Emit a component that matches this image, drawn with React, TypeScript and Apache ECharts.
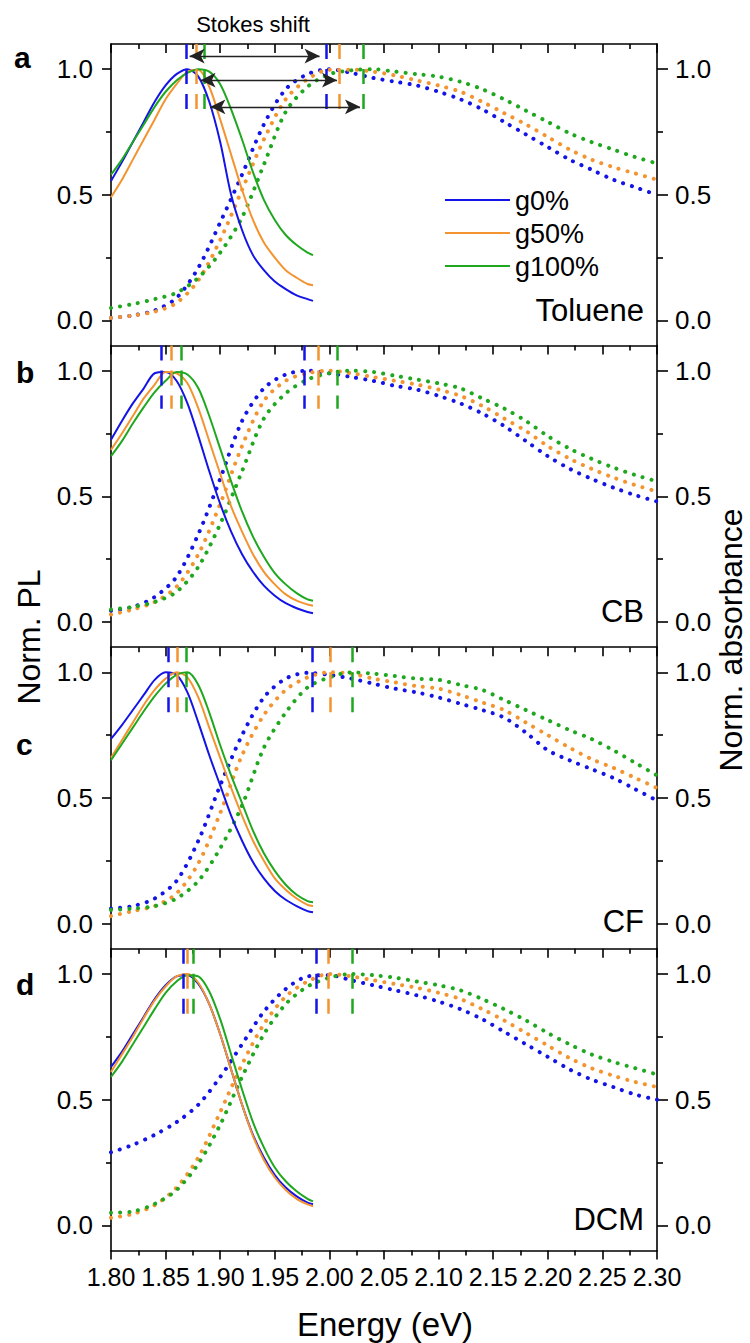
import React, { useEffect, useRef } from "react";
import * as echarts from "echarts";

// ---------- data ----------
const X_MIN = 1.8;
const X_MAX = 2.3;
const X_STEP = 0.05;
const Y_MIN = -0.1;
const Y_MAX = 1.1;
const Y_TICKS = [0, 0.5, 1.0];
const Y_MINOR_TICKS = [0.25, 0.75];

const SAMPLES = ["g0%", "g50%", "g100%"];
const SOLVENTS = ["Toluene", "CB", "CF", "DCM"];
const PANEL_LETTERS = ["a", "b", "c", "d"];

const PL_E = [1.80, 1.81, 1.82, 1.83, 1.84, 1.85, 1.86, 1.87, 1.88, 1.89, 1.90, 1.91, 1.92, 1.93, 1.94, 1.95, 1.96, 1.97, 1.98, 1.985];
const ABS_E = [1.80, 1.82, 1.84, 1.86, 1.88, 1.90, 1.92, 1.94, 1.96, 1.98, 2.00, 2.02, 2.04, 2.06, 2.08, 2.10, 2.12, 2.14, 2.16, 2.18, 2.20, 2.22, 2.24, 2.26, 2.28, 2.30];

// Toluene
const plTol_g0 = [0.555, 0.63, 0.71, 0.79, 0.87, 0.935, 0.98, 1.0, 0.97, 0.87, 0.71, 0.50, 0.36, 0.26, 0.20, 0.155, 0.125, 0.10, 0.085, 0.078];
const plTol_g50 = [0.49, 0.56, 0.64, 0.72, 0.80, 0.88, 0.94, 0.99, 0.998, 0.93, 0.80, 0.66, 0.52, 0.40, 0.31, 0.25, 0.20, 0.17, 0.145, 0.14];
const plTol_g100 = [0.58, 0.64, 0.71, 0.78, 0.85, 0.91, 0.955, 0.985, 1.0, 0.99, 0.94, 0.84, 0.72, 0.59, 0.48, 0.40, 0.34, 0.30, 0.27, 0.26];
const absTol_g0 = [0.01, 0.02, 0.04, 0.09, 0.21, 0.39, 0.58, 0.78, 0.92, 0.98, 1.0, 0.985, 0.965, 0.95, 0.935, 0.91, 0.88, 0.84, 0.79, 0.74, 0.69, 0.64, 0.60, 0.56, 0.53, 0.50];
const absTol_g50 = [0.01, 0.02, 0.035, 0.07, 0.16, 0.32, 0.52, 0.72, 0.88, 0.96, 0.998, 0.998, 0.99, 0.975, 0.955, 0.935, 0.91, 0.87, 0.825, 0.78, 0.73, 0.68, 0.64, 0.61, 0.585, 0.56];
const absTol_g100 = [0.05, 0.065, 0.085, 0.11, 0.17, 0.27, 0.41, 0.62, 0.83, 0.93, 0.98, 0.995, 1.0, 0.99, 0.98, 0.97, 0.95, 0.92, 0.88, 0.835, 0.79, 0.745, 0.71, 0.68, 0.65, 0.625];

// CB
const plCB_g0 = [0.725, 0.80, 0.87, 0.93, 0.99, 0.995, 0.96, 0.87, 0.74, 0.60, 0.47, 0.36, 0.27, 0.20, 0.145, 0.105, 0.075, 0.055, 0.04, 0.035];
const plCB_g50 = [0.685, 0.75, 0.82, 0.89, 0.945, 0.995, 0.99, 0.95, 0.85, 0.72, 0.59, 0.46, 0.36, 0.27, 0.20, 0.15, 0.11, 0.085, 0.07, 0.065];
const plCB_g100 = [0.66, 0.72, 0.79, 0.855, 0.915, 0.96, 0.995, 0.985, 0.93, 0.82, 0.69, 0.56, 0.44, 0.34, 0.26, 0.195, 0.15, 0.115, 0.09, 0.085];
const absCB_g0 = [0.045, 0.06, 0.10, 0.18, 0.35, 0.57, 0.80, 0.93, 0.985, 1.0, 0.99, 0.975, 0.96, 0.94, 0.925, 0.90, 0.87, 0.83, 0.78, 0.72, 0.66, 0.61, 0.57, 0.535, 0.505, 0.48];
const absCB_g50 = [0.03, 0.05, 0.08, 0.14, 0.27, 0.47, 0.70, 0.88, 0.96, 0.99, 1.0, 0.99, 0.975, 0.96, 0.945, 0.925, 0.90, 0.86, 0.81, 0.76, 0.70, 0.65, 0.61, 0.575, 0.545, 0.52];
const absCB_g100 = [0.05, 0.06, 0.08, 0.12, 0.22, 0.39, 0.60, 0.81, 0.91, 0.965, 0.99, 1.0, 0.995, 0.98, 0.965, 0.95, 0.93, 0.89, 0.85, 0.80, 0.74, 0.69, 0.65, 0.615, 0.585, 0.56];

// CF
const plCF_g0 = [0.735, 0.79, 0.85, 0.91, 0.97, 1.0, 0.99, 0.92, 0.80, 0.67, 0.55, 0.43, 0.33, 0.245, 0.18, 0.13, 0.095, 0.07, 0.05, 0.045];
const plCF_g50 = [0.66, 0.73, 0.80, 0.87, 0.93, 0.975, 1.0, 0.98, 0.90, 0.78, 0.66, 0.54, 0.43, 0.33, 0.25, 0.18, 0.135, 0.10, 0.075, 0.07];
const plCF_g100 = [0.65, 0.715, 0.78, 0.845, 0.905, 0.955, 0.99, 1.0, 0.95, 0.84, 0.71, 0.59, 0.48, 0.37, 0.28, 0.21, 0.155, 0.115, 0.09, 0.085];
const absCF_g0 = [0.06, 0.07, 0.10, 0.17, 0.33, 0.55, 0.75, 0.90, 0.975, 0.998, 0.99, 0.975, 0.955, 0.935, 0.92, 0.90, 0.875, 0.85, 0.82, 0.76, 0.69, 0.65, 0.615, 0.58, 0.535, 0.49];
const absCF_g50 = [0.03, 0.05, 0.07, 0.12, 0.24, 0.44, 0.67, 0.83, 0.93, 0.98, 1.0, 0.995, 0.975, 0.96, 0.945, 0.935, 0.91, 0.88, 0.85, 0.80, 0.75, 0.70, 0.655, 0.62, 0.58, 0.54];
const absCF_g100 = [0.055, 0.06, 0.07, 0.10, 0.17, 0.30, 0.47, 0.70, 0.84, 0.94, 0.98, 1.0, 0.995, 0.985, 0.975, 0.97, 0.95, 0.93, 0.89, 0.85, 0.81, 0.77, 0.735, 0.69, 0.64, 0.59];

// DCM
const plDCM_g0 = [0.63, 0.69, 0.76, 0.83, 0.90, 0.955, 0.99, 0.995, 0.96, 0.88, 0.76, 0.62, 0.48, 0.36, 0.27, 0.20, 0.15, 0.115, 0.09, 0.084];
const plDCM_g50 = [0.61, 0.68, 0.75, 0.825, 0.895, 0.95, 0.99, 1.0, 0.965, 0.88, 0.76, 0.62, 0.48, 0.355, 0.26, 0.19, 0.14, 0.105, 0.083, 0.076];
const plDCM_g100 = [0.59, 0.65, 0.72, 0.79, 0.86, 0.925, 0.97, 0.995, 0.99, 0.93, 0.82, 0.68, 0.54, 0.41, 0.31, 0.23, 0.175, 0.135, 0.105, 0.095];
const absDCM_g0 = [0.29, 0.32, 0.36, 0.41, 0.48, 0.59, 0.72, 0.85, 0.94, 0.99, 0.995, 0.975, 0.955, 0.935, 0.915, 0.89, 0.86, 0.82, 0.77, 0.72, 0.67, 0.62, 0.58, 0.55, 0.52, 0.50];
const absDCM_g50 = [0.03, 0.045, 0.08, 0.15, 0.27, 0.45, 0.64, 0.80, 0.91, 0.97, 1.0, 0.99, 0.975, 0.96, 0.945, 0.925, 0.90, 0.86, 0.815, 0.765, 0.715, 0.665, 0.625, 0.595, 0.57, 0.55];
const absDCM_g100 = [0.05, 0.055, 0.085, 0.14, 0.245, 0.40, 0.59, 0.76, 0.88, 0.95, 0.985, 1.0, 0.995, 0.985, 0.97, 0.955, 0.935, 0.90, 0.86, 0.815, 0.765, 0.72, 0.68, 0.65, 0.625, 0.60];

// Peak markers (energy, eV)
const MARK_PL = [
  [1.869, 1.878, 1.885],
  [1.846, 1.855, 1.864],
  [1.852, 1.861, 1.869],
  [1.866, 1.870, 1.875],
];
const MARK_ABS = [
  [1.997, 2.009, 2.031],
  [1.977, 1.990, 2.007],
  [1.984, 2.001, 2.021],
  [1.988, 1.999, 2.021],
];
const MARK_BOTTOM = [0.817, 0.849, 0.829, 0.81];

// Stokes shift arrows (panel a)
const ARROW_FROM = [1.872, 1.882, 1.891];
const ARROW_TO = [1.991, 2.007, 2.028];
const ARROW_Y = [1.052, 0.956, 0.85];

const PL = [
  [plTol_g0, plTol_g50, plTol_g100],
  [plCB_g0, plCB_g50, plCB_g100],
  [plCF_g0, plCF_g50, plCF_g100],
  [plDCM_g0, plDCM_g50, plDCM_g100],
];
const ABS = [
  [absTol_g0, absTol_g50, absTol_g100],
  [absCB_g0, absCB_g50, absCB_g100],
  [absCF_g0, absCF_g50, absCF_g100],
  [absDCM_g0, absDCM_g50, absDCM_g100],
];

// ---------- style / layout ----------
const COLORS = ["#1414e6", "#f39430", "#1fa81f"];
const FONT = "'Liberation Sans', Arial, sans-serif";
const NARROW = "'Liberation Sans Narrow', 'Arial Narrow', 'Liberation Sans', sans-serif";
const GRID_LEFT = 111;
const GRID_W = 546;
const GRID_TOP = 44;
const GRID_H = 301.6;

const AXIS_LINE = { color: "#000", width: 1.6 };

function buildOption() {
  const grid: any[] = [];
  const xAxis: any[] = [];
  const yAxis: any[] = [];
  const series: any[] = [];

  for (let i = 0; i < 4; i++) {
    grid.push({ left: GRID_LEFT, width: GRID_W, top: GRID_TOP + i * GRID_H, height: GRID_H });
    xAxis.push({
      type: "value",
      gridIndex: i,
      min: X_MIN,
      max: X_MAX,
      interval: X_STEP,
      position: "bottom",
      axisLine: { show: true, onZero: false, lineStyle: AXIS_LINE },
      axisTick: { show: true, inside: false, length: 9, lineStyle: AXIS_LINE },
      minorTick: { show: true, splitNumber: 2, length: 5, lineStyle: AXIS_LINE },
      splitLine: { show: false },
      minorSplitLine: { show: false },
      axisLabel: {
        show: i === 3,
        margin: 14,
        color: "#000",
        fontSize: 25,
        fontFamily: NARROW,
        showMinLabel: true,
        showMaxLabel: true,
        formatter: (v: number) => v.toFixed(2),
      },
    });
    const base = { type: "value", gridIndex: i, min: Y_MIN, max: Y_MAX, splitLine: { show: false } };
    yAxis.push({
      ...base,
      position: "left",
      axisLine: { show: true, onZero: false, lineStyle: AXIS_LINE },
      axisTick: { show: true, inside: false, length: 9, customValues: Y_TICKS, lineStyle: AXIS_LINE },
      axisLabel: {
        show: true,
        customValues: Y_TICKS,
        margin: 18,
        color: "#000",
        fontSize: 26,
        fontFamily: FONT,
        formatter: (v: number) => v.toFixed(1),
      },
    });
    yAxis.push({
      ...base,
      position: "left",
      axisLine: { show: false, onZero: false },
      axisTick: { show: true, inside: false, length: 5, customValues: Y_MINOR_TICKS, lineStyle: AXIS_LINE },
      axisLabel: { show: false },
    });
    yAxis.push({
      ...base,
      position: "right",
      axisLine: { show: true, onZero: false, lineStyle: AXIS_LINE },
      axisTick: { show: true, inside: false, length: 11, customValues: Y_TICKS, lineStyle: AXIS_LINE },
      axisLabel: {
        show: true,
        customValues: Y_TICKS,
        margin: 18,
        color: "#000",
        fontSize: 26,
        fontFamily: FONT,
        formatter: (v: number) => v.toFixed(1),
      },
    });
    yAxis.push({
      ...base,
      position: "right",
      axisLine: { show: false, onZero: false },
      axisTick: { show: true, inside: false, length: 6, customValues: Y_MINOR_TICKS, lineStyle: AXIS_LINE },
      axisLabel: { show: false },
    });

    for (let c = 0; c < 3; c++) {
      series.push({
        type: "line",
        name: SAMPLES[c],
        xAxisIndex: i,
        yAxisIndex: 4 * i,
        data: ABS_E.map((e, k) => [e, ABS[i][c][k]]),
        showSymbol: false,
        symbol: "none",
        smooth: 0.3,
        lineStyle: { color: COLORS[c], width: 4, type: [0.1, 9], cap: "round" },
        z: 2,
        markLine: {
          silent: true,
          symbol: ["none", "none"],
          label: { show: false },
          emphasis: { disabled: true },
          lineStyle: { color: COLORS[c], width: 2.5, type: [15, 10], cap: "butt" },
          data: [
            [{ coord: [MARK_PL[i][c], Y_MAX] }, { coord: [MARK_PL[i][c], MARK_BOTTOM[i]] }],
            [{ coord: [MARK_ABS[i][c], Y_MAX] }, { coord: [MARK_ABS[i][c], MARK_BOTTOM[i]] }],
          ],
        },
      });
    }
    for (let c = 0; c < 3; c++) {
      const s: any = {
        type: "line",
        name: SAMPLES[c],
        xAxisIndex: i,
        yAxisIndex: 4 * i,
        data: PL_E.map((e, k) => [e, PL[i][c][k]]),
        showSymbol: false,
        symbol: "none",
        smooth: 0.3,
        lineStyle: { color: COLORS[c], width: 2 },
        z: 3,
      };
      if (i === 0 && c === 0) {
        s.markLine = {
          silent: true,
          symbol: ["arrow", "arrow"],
          symbolSize: [11, 15],
          label: { show: false },
          lineStyle: { color: "#222", width: 1.3, type: "solid" },
          emphasis: { disabled: true },
          data: ARROW_Y.map((y, k) => [{ coord: [ARROW_FROM[k], y] }, { coord: [ARROW_TO[k], y] }]),
        };
      }
      series.push(s);
    }
  }

  xAxis.push({
    type: "value",
    gridIndex: 0,
    min: X_MIN,
    max: X_MAX,
    interval: X_STEP,
    position: "top",
    axisLine: { show: true, onZero: false, lineStyle: AXIS_LINE },
    axisTick: { show: true, inside: true, length: 9, lineStyle: AXIS_LINE },
    minorTick: { show: true, splitNumber: 2, length: 5, lineStyle: AXIS_LINE },
    splitLine: { show: false },
    axisLabel: { show: false },
  });

  const graphic: any[] = [];
  const letterPos = [
    [14, 57.5],
    [16, 372.5],
    [16, 744.5],
    [16, 984.5],
  ];
  PANEL_LETTERS.forEach((t, i) => {
    graphic.push({
      type: "text",
      x: letterPos[i][0],
      y: letterPos[i][1],
      style: { text: t, font: `bold 30px ${FONT}`, fill: "#000", textAlign: "left", textVerticalAlign: "middle" },
    });
  });
  const solventY = [310, 611, 921, 1219];
  SOLVENTS.forEach((t, i) => {
    graphic.push({
      type: "text",
      x: 644,
      y: solventY[i],
      style: { text: t, font: `31px ${FONT}`, fill: "#000", textAlign: "right", textVerticalAlign: "middle" },
    });
  });
  const legendY = [200, 233, 266];
  SAMPLES.forEach((t, c) => {
    graphic.push({
      type: "line",
      shape: { x1: 445, y1: legendY[c], x2: 510, y2: legendY[c] },
      style: { stroke: COLORS[c], lineWidth: 2.2 },
    });
    graphic.push({
      type: "text",
      x: 515,
      y: legendY[c] + 1,
      style: { text: t, font: `27px ${FONT}`, fill: "#000", textAlign: "left", textVerticalAlign: "middle" },
    });
  });
  graphic.push({
    type: "text",
    x: 253,
    y: 24,
    style: { text: "Stokes shift", font: `22px ${FONT}`, fill: "#000", textAlign: "center", textVerticalAlign: "middle" },
  });
  graphic.push({
    type: "text",
    x: 29,
    y: 637,
    rotation: Math.PI / 2,
    style: { text: "Norm. PL", font: `32px ${FONT}`, fill: "#000", textAlign: "center", textVerticalAlign: "middle" },
  });
  graphic.push({
    type: "text",
    x: 731,
    y: 640,
    rotation: Math.PI / 2,
    style: { text: "Norm. absorbance", font: `32px ${FONT}`, fill: "#000", textAlign: "center", textVerticalAlign: "middle" },
  });
  graphic.push({
    type: "text",
    x: 385,
    y: 1324,
    style: { text: "Energy (eV)", font: `33px ${FONT}`, fill: "#000", textAlign: "center", textVerticalAlign: "middle" },
  });

  return {
    animation: false,
    backgroundColor: "#fff",
    textStyle: { fontFamily: FONT },
    grid,
    xAxis,
    yAxis,
    series,
    graphic,
  };
}

export default function App() {
  const ref = useRef<HTMLDivElement>(null);
  useEffect(() => {
    document.body.style.margin = "0";
    const chart = echarts.init(ref.current as HTMLDivElement, null, { renderer: "svg" });
    chart.setOption(buildOption() as any);
    return () => chart.dispose();
  }, []);
  return (
    <div
      ref={ref}
      style={{ position: "absolute", left: 0, top: 0, width: 750, height: 1343, background: "#fff" }}
    />
  );
}
